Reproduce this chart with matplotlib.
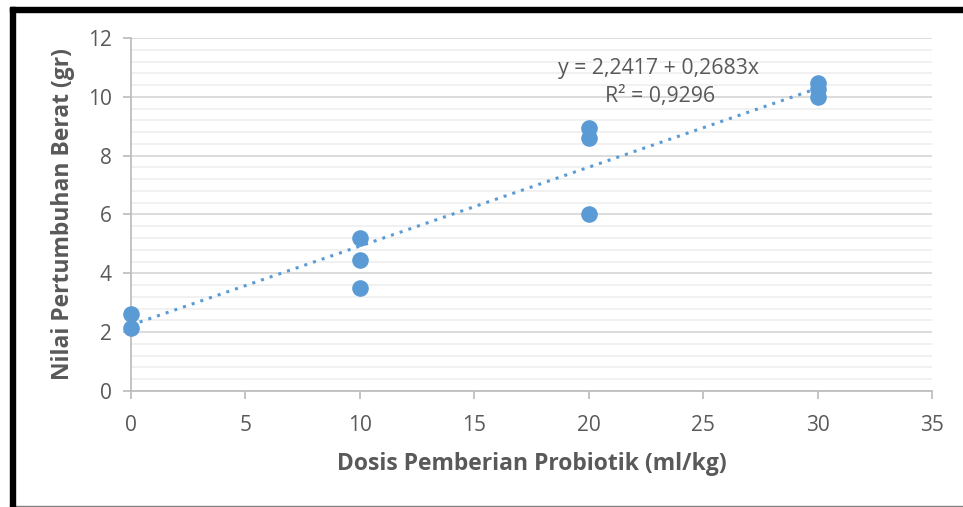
import numpy as np
import matplotlib.pyplot as plt
from matplotlib.patches import Rectangle
from matplotlib.lines import Line2D
from matplotlib.ticker import MultipleLocator

plt.rcParams['font.family'] = ['Open Sans', 'DejaVu Sans']

# data
dosis = [0, 0, 10, 10, 10, 20, 20, 20, 30, 30, 30]
berat = [2.14, 2.62, 5.2, 4.46, 3.5, 8.95, 8.6, 6.03, 10.48, 10.27, 10.0]
a, b = 2.2417, 0.2683
grey = '#595959'
blue = '#5b9bd5'

fig = plt.figure(figsize=(9.63, 5.07), dpi=100)
ax = fig.add_axes([131/963, 116/507, 801/963, 353/507])

ax.set_xlim(0, 35)
ax.set_ylim(0, 12)
ax.xaxis.set_major_locator(MultipleLocator(5))
ax.yaxis.set_major_locator(MultipleLocator(2))
ax.yaxis.set_minor_locator(MultipleLocator(0.4))
ax.grid(axis='y', which='major', color='#d9d9d9', lw=1.3)
ax.grid(axis='y', which='minor', color='#f0f0f0', lw=1.3)
ax.set_axisbelow(True)
for s in ['top', 'right']:
    ax.spines[s].set_visible(False)
for s in ['left', 'bottom']:
    ax.spines[s].set_color('#bfbfbf')
    ax.spines[s].set_linewidth(1.3)
ax.tick_params(which='major', length=6, color='#bfbfbf', width=1.3,
               labelsize=15, labelcolor=grey)
ax.tick_params(axis='x', pad=11)
ax.tick_params(axis='y', pad=8)
ax.tick_params(which='minor', length=0)

xt = np.array([0, 30])
ax.plot(xt, a + b*xt, ls=(0, (1, 2)), lw=2.2, color=blue, zorder=2)
ax.scatter(dosis, berat, s=120, color=blue, zorder=3, clip_on=False)

ax.text(0.659, 0.913, 'y = 2,2417 + 0,2683x', transform=ax.transAxes,
        ha='center', va='center', fontsize=15.3, color=grey)
ax.text(0.661, 0.833, 'R² = 0,9296', transform=ax.transAxes,
        ha='center', va='center', fontsize=15.3, color=grey)

ax.set_xlabel('Dosis Pemberian Probiotik (ml/kg)', fontsize=16.5,
              fontweight='bold', color=grey, labelpad=12)
ax.set_ylabel('Nilai Pertumbuhan Berat (gr)', fontsize=16.5,
              fontweight='bold', color=grey, labelpad=9)

# frame around the picture
fig.patches.append(Rectangle((10/963, 0), 5/963, 500/507, transform=fig.transFigure,
                             color='black', zorder=5))
fig.patches.append(Rectangle((10/963, 495/507), 953/963, 5/507, transform=fig.transFigure,
                             color='black', zorder=5))
fig.lines.append(Line2D([10/963, 1], [1/507, 1/507], transform=fig.transFigure,
                        color='#7f7f7f', lw=1))

fig.savefig('out.png', dpi=100)
